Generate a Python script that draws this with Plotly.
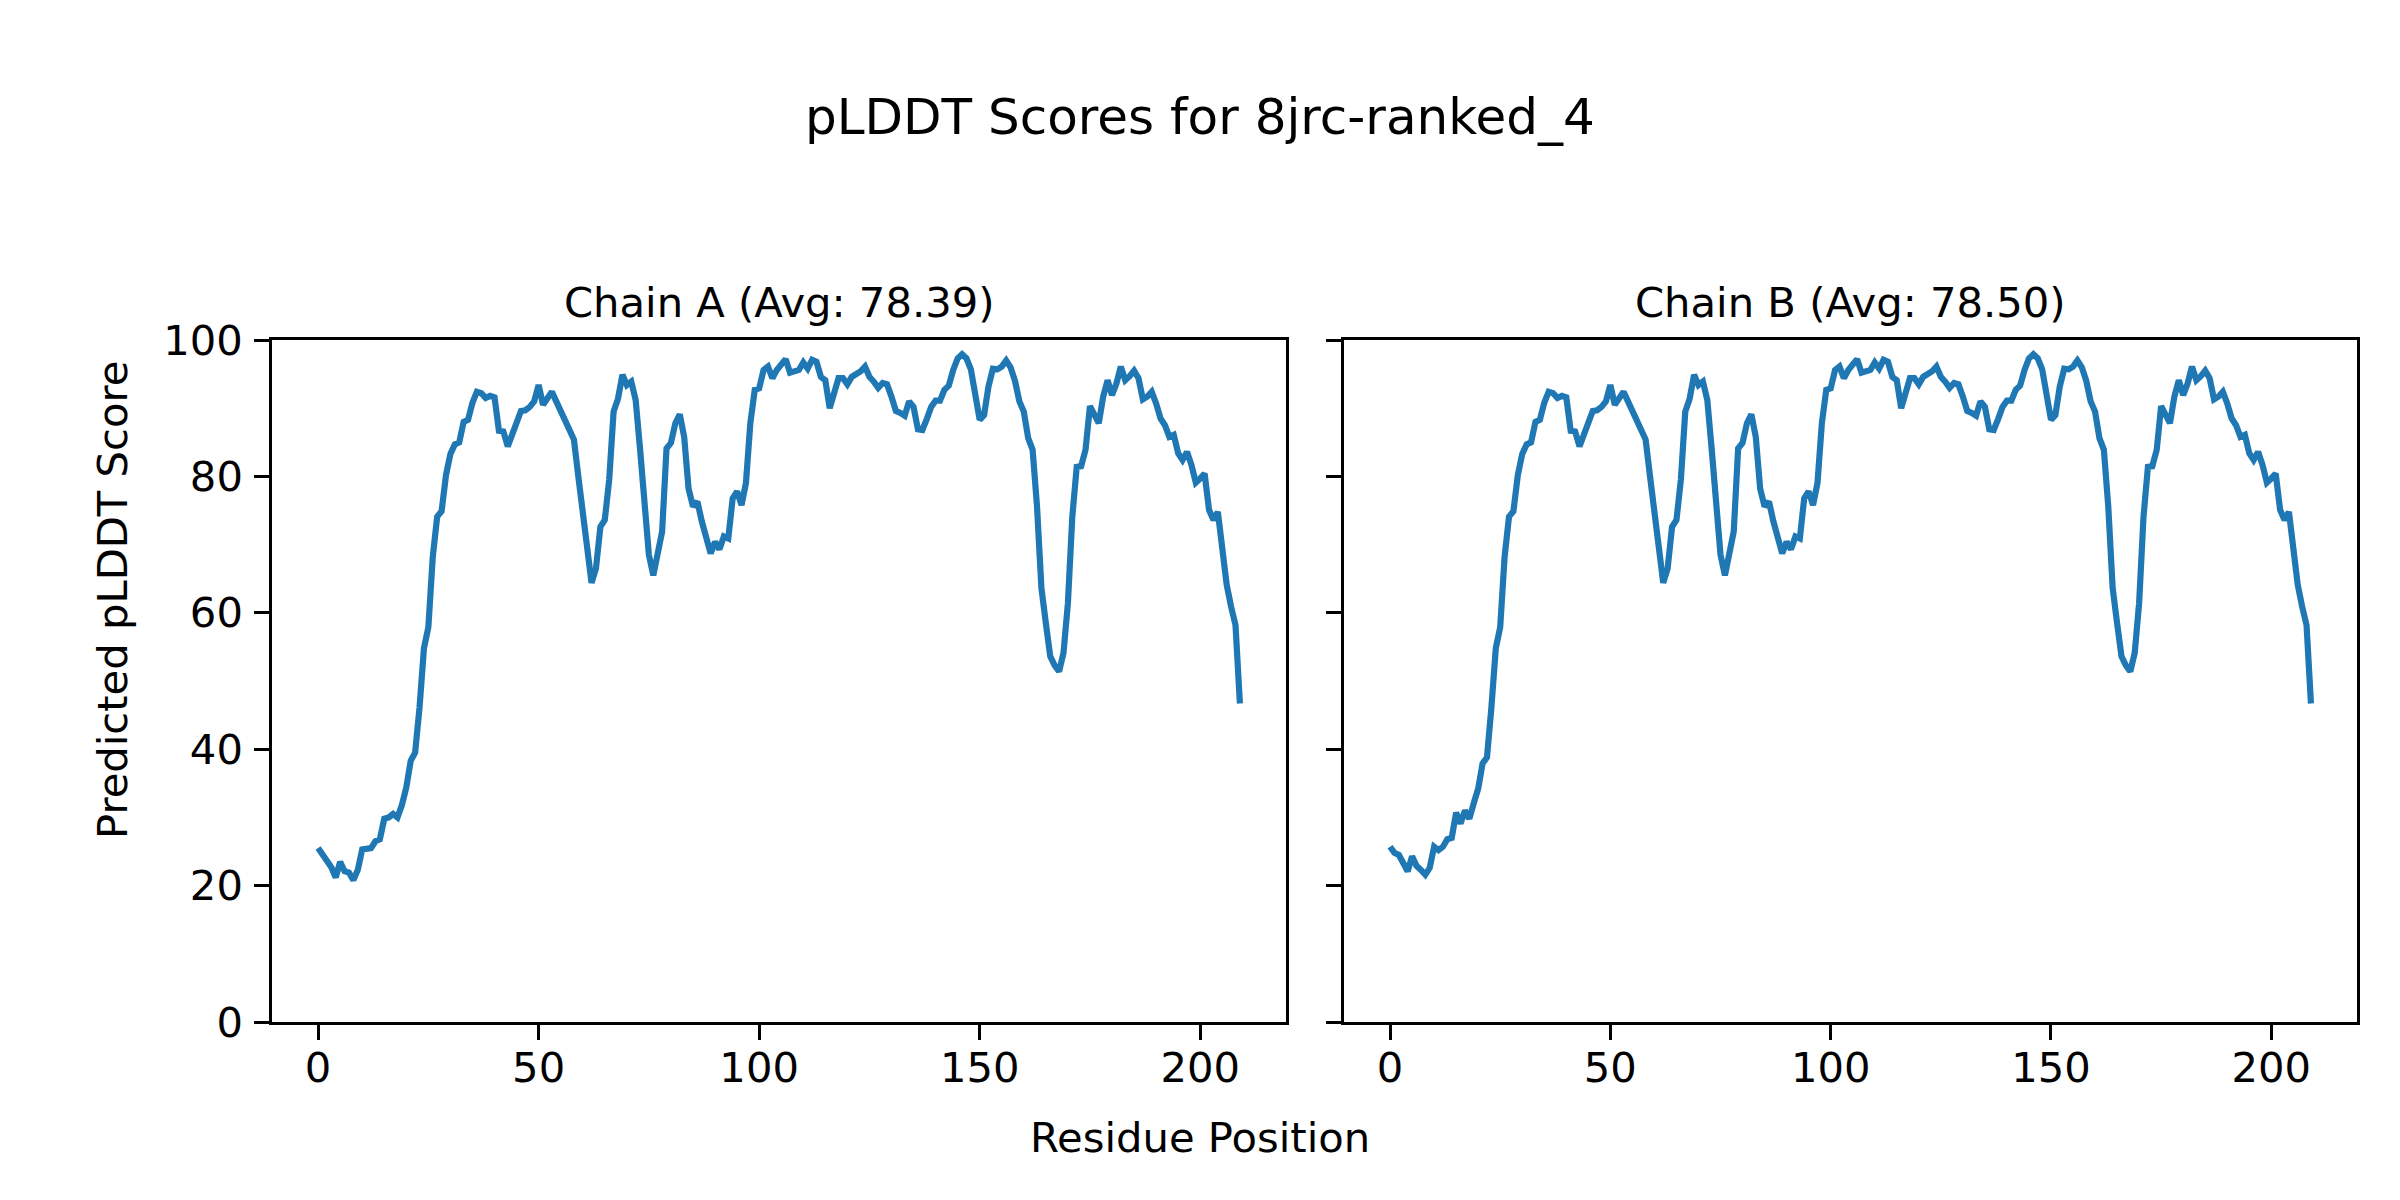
import plotly.graph_objects as go

residues = list(range(210))

chain_a = [
    25.5, 24.5, 23.5, 22.7, 21.2, 23.5, 22.1, 21.9, 20.8, 22.3,
    25.3, 25.4, 25.5, 26.5, 26.8, 29.8, 30.0, 30.5, 30.0, 31.8,
    34.4, 38.3, 39.5, 46.1, 54.8, 57.9, 68.2, 74.1, 74.9, 80.2,
    83.3, 84.7, 85.0, 88.0, 88.3, 90.8, 92.4, 92.2, 91.5, 91.8,
    91.6, 86.7, 86.6, 84.4, 86.3, 88.0, 89.6, 89.7, 90.2, 91.0,
    93.4, 90.5, 91.5, 92.4, 91.0, 89.5, 88.2, 87.0, 85.4, 80.0,
    74.6, 68.7, 64.4, 66.5, 72.6, 73.6, 79.5, 89.5, 91.4, 94.9,
    93.4, 93.9, 91.2, 84.0, 76.0, 68.5, 65.5, 68.7, 71.9, 84.1,
    84.9, 87.8, 89.1, 85.8, 78.2, 75.6, 76.3, 73.4, 71.2, 68.7,
    70.4, 69.3, 71.2, 70.9, 76.8, 77.8, 75.8, 79.0, 87.8, 92.7,
    92.9, 95.6, 96.1, 94.4, 95.6, 96.5, 97.2, 95.2, 95.5, 95.6,
    96.7, 95.8, 97.1, 96.8, 94.6, 94.1, 90.0, 92.2, 94.4, 94.4,
    93.5, 94.6, 95.0, 95.4, 96.1, 94.6, 93.9, 93.0, 93.7, 93.5,
    91.7, 89.6, 89.3, 88.9, 91.0, 90.2, 86.9, 86.8, 88.4, 90.2,
    91.1, 91.1, 92.7, 93.3, 95.6, 97.3, 97.9, 97.3, 95.7, 91.7,
    88.3, 89.0, 93.2, 95.8, 95.7, 96.1, 97.0, 96.0, 94.0, 91.0,
    89.5, 85.6, 83.9, 75.6, 63.6, 58.5, 53.6, 52.3, 51.4, 54.1,
    61.4, 74.1, 81.4, 81.5, 83.9, 90.3, 89.0, 87.8, 91.7, 94.1,
    91.9, 93.6, 96.1, 94.1, 94.7, 95.5, 94.4, 91.3, 91.7, 92.4,
    90.7, 88.5, 87.5, 85.8, 86.1, 83.4, 82.4, 83.6, 81.7, 79.1,
    79.7, 80.4, 75.1, 73.6, 74.8, 69.7, 64.1, 60.9, 58.2, 46.7,
]

chain_b = [
    25.7, 24.8, 24.5, 23.4, 22.1, 24.3, 22.9, 22.3, 21.6, 22.6,
    25.7, 25.2, 25.7, 26.8, 27.0, 30.7, 29.1, 31.0, 29.8, 32.1,
    34.2, 37.9, 38.8, 46.1, 54.8, 57.9, 68.2, 74.1, 74.9, 80.2,
    83.3, 84.7, 85.0, 88.0, 88.3, 90.8, 92.4, 92.2, 91.5, 91.8,
    91.6, 86.7, 86.6, 84.4, 86.3, 88.0, 89.6, 89.7, 90.2, 91.0,
    93.4, 90.5, 91.5, 92.4, 91.0, 89.5, 88.2, 87.0, 85.4, 80.0,
    74.6, 68.7, 64.4, 66.5, 72.6, 73.6, 79.5, 89.5, 91.4, 94.9,
    93.4, 93.9, 91.2, 84.0, 76.0, 68.5, 65.5, 68.7, 71.9, 84.1,
    84.9, 87.8, 89.1, 85.8, 78.2, 75.6, 76.3, 73.4, 71.2, 68.7,
    70.4, 69.3, 71.2, 70.9, 76.8, 77.8, 75.8, 79.0, 87.8, 92.7,
    92.9, 95.6, 96.1, 94.4, 95.6, 96.5, 97.2, 95.2, 95.5, 95.6,
    96.7, 95.8, 97.1, 96.8, 94.6, 94.1, 90.0, 92.2, 94.4, 94.4,
    93.5, 94.6, 95.0, 95.4, 96.1, 94.6, 93.9, 93.0, 93.7, 93.5,
    91.7, 89.6, 89.3, 88.9, 91.0, 90.2, 86.9, 86.8, 88.4, 90.2,
    91.1, 91.1, 92.7, 93.3, 95.6, 97.3, 97.9, 97.3, 95.7, 91.7,
    88.3, 89.0, 93.2, 95.8, 95.7, 96.1, 97.0, 96.0, 94.0, 91.0,
    89.5, 85.6, 83.9, 75.6, 63.6, 58.5, 53.6, 52.3, 51.4, 54.1,
    61.4, 74.1, 81.4, 81.5, 83.9, 90.3, 89.0, 87.8, 91.7, 94.1,
    91.9, 93.6, 96.1, 94.1, 94.7, 95.5, 94.4, 91.3, 91.7, 92.4,
    90.7, 88.5, 87.5, 85.8, 86.1, 83.4, 82.4, 83.6, 81.7, 79.1,
    79.7, 80.4, 75.1, 73.6, 74.8, 69.7, 64.1, 60.9, 58.2, 46.7,
]

suptitle = "pLDDT Scores for 8jrc-ranked_4"
titles = ["Chain A (Avg: 78.39)", "Chain B (Avg: 78.50)"]
xlabel = "Residue Position"
ylabel = "Predicted pLDDT Score"
xticks = [0, 50, 100, 150, 200]
yticks = [0, 20, 40, 60, 80, 100]

FONT = "DejaVu Sans"
BLUE = "#1f77b4"
W, H = 2400, 1200
OFF = 8  # page body margin offset

# target screen positions of the plot area
SX0, SX1, SY0, SY1 = 272, 2357, 340, 1022
L = SX0 - OFF
T = SY0 - OFF
R = W - (SX1 - OFF)
B = H - (SY1 - OFF)
PW = SX1 - SX0
PH = SY1 - SY0

fig = go.Figure()
fig.add_trace(go.Scatter(x=residues, y=chain_a, mode="lines",
                         line=dict(color=BLUE, width=6.2), xaxis="x", yaxis="y",
                         showlegend=False))
fig.add_trace(go.Scatter(x=residues, y=chain_b, mode="lines",
                         line=dict(color=BLUE, width=6.2), xaxis="x2", yaxis="y2",
                         showlegend=False))

d1 = (1286 - SX0) / PW
d2 = (1344 - SX0) / PW

axis_common = dict(showgrid=False, zeroline=False, showline=True, mirror=True,
                   linecolor="black", linewidth=3.3, ticks="outside",
                   ticklen=14.6, tickwidth=3.3, tickcolor="black",
                   tickfont=dict(family=FONT, size=41.7, color="black"))

xr = [-10.45, 219.45]
fig.update_layout(
    width=W, height=H,
    margin=dict(l=L, r=R, t=T, b=B, pad=0),
    paper_bgcolor="white", plot_bgcolor="white",
    font=dict(family=FONT, color="black"),
    xaxis=dict(domain=[0, d1], range=xr, tickvals=xticks, anchor="y",
               ticklabelstandoff=-8, **axis_common),
    xaxis2=dict(domain=[d2, 1], range=xr, tickvals=xticks, anchor="y2",
                ticklabelstandoff=-8, **axis_common),
    yaxis=dict(domain=[0, 1], range=[0, 100], tickvals=yticks, anchor="x",
               ticklabelstandoff=3, **axis_common),
    yaxis2=dict(domain=[0, 1], range=[0, 100], tickvals=yticks, anchor="x2",
                showticklabels=False, **axis_common),
)

def py(Y):
    return (SY1 - Y) / PH

def px(X):
    return (X - SX0) / PW

ann = [
    dict(text=suptitle, x=px(1200), y=py(117), size=50),
    dict(text=titles[0], x=d1 / 2, y=py(302), size=41.7),
    dict(text=titles[1], x=(d2 + 1) / 2, y=py(302), size=41.7),
    dict(text=xlabel, x=px(1200), y=py(1137), size=41.7),
]
for a in ann:
    fig.add_annotation(text=a["text"], x=a["x"], y=a["y"], xref="paper", yref="paper",
                       xanchor="center", yanchor="middle", showarrow=False,
                       font=dict(family=FONT, size=a["size"], color="black"))
fig.add_annotation(text=ylabel, x=px(112), y=py(600), xref="paper", yref="paper",
                   xanchor="center", yanchor="middle", showarrow=False, textangle=-90,
                   font=dict(family=FONT, size=41.7, color="black"))

fig.write_html("out.html")
